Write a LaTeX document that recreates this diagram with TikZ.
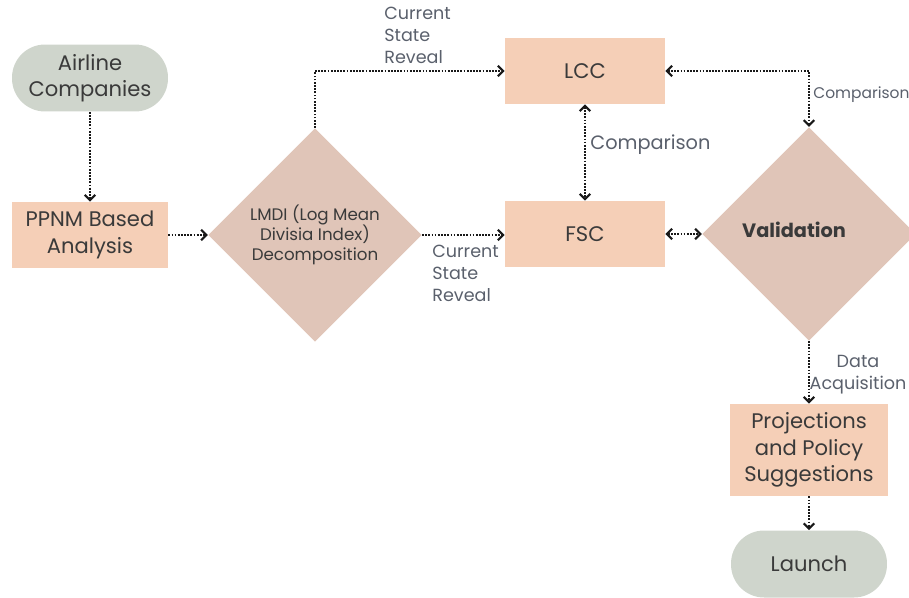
\documentclass[tikz,border=0pt]{standalone}
\usepackage{fontspec}
\setmainfont{Poppins}
\usetikzlibrary{arrows.meta,shapes.geometric}

\definecolor{pillgray}{HTML}{CFD5CC}
\definecolor{boxpeach}{HTML}{F5CFB7}
\definecolor{diamondrose}{HTML}{E0C5B8}
\definecolor{inktext}{HTML}{3A3A3A}
\definecolor{labeltext}{HTML}{5A606C}

\tikzset{
  pill/.style={rectangle, rounded corners=0.66cm, fill=pillgray, text=inktext,
    minimum width=3.12cm, minimum height=1.34cm, align=center, font=\fontsize{12}{15}\selectfont},
  stepbox/.style={rectangle, fill=boxpeach, text=inktext, minimum width=3.16cm,
    minimum height=1.32cm, align=center, font=\fontsize{12}{15}\selectfont},
  decision/.style={diamond, fill=diamondrose, text=inktext, minimum size=4.27cm,
    inner sep=0pt, align=center},
  flowlabel/.style={text=labeltext, align=left, inner sep=0pt, font=\fontsize{10}{12.5}\selectfont},
  barb/.tip={Straight Barb[length=3pt,width=6pt,line width=1.2pt]},
  flow/.style={line width=1.6pt, dash pattern=on 1pt off 0.8pt, black!90, -barb},
  flowboth/.style={flow, barb-barb}
}

\begin{document}
\begin{tikzpicture}[x=0.02cm,y=-0.02cm]
    \useasboundingbox (0,0) rectangle (909,598); % Fix the page to the reference size
    \clip (0,0) rectangle (909,598);

    % Left column
    \node[pill] (airline) at (90,78) {Airline\\Companies};
    \node[stepbox, minimum width=3.12cm] (ppnm) at (90,235) {PPNM Based\\Analysis};
    \node[decision, font=\fontsize{9.5}{11.5}\selectfont] (lmdi) at (315,235) {LMDI (Log Mean\\Divisia Index)\\Decomposition};

    % Middle column
    \node[stepbox, minimum width=3.2cm] (lcc) at (585,71) {LCC};
    \node[stepbox, minimum width=3.2cm] (fsc) at (585,234) {FSC};

    % Right column
    \node[decision, font=\fontsize{11}{13}\selectfont\bfseries] (valid) at (809,234) {\hbox{\raisebox{5pt}{Validation}\kern17pt}};
    \node[stepbox, minimum height=1.84cm] (proj) at (809,450) {Projections\\and Policy\\Suggestions};
    \node[pill] (launch) at (809,564) {Launch};

    % Connectors
    \draw[flow] (airline) -- (ppnm);
    \draw[flow] (ppnm) -- (lmdi);
    \draw[flow] (lmdi.north) |- (lcc.west);
    \draw[flow] (lmdi.east) -- (fsc.west |- lmdi.east);
    \draw[flowboth] (lcc) -- (fsc);
    \draw[flowboth] (lcc.east) -| (valid.north);
    \draw[flowboth] (fsc) -- (valid);
    \draw[flow] (valid.south) -- (valid.south |- proj.north);
    \draw[flow] (proj) -- (launch);

    % Annotate the connectors
    \node[flowlabel, anchor=south west] (revealtop) at (384,64) {Current\\State\\Reveal};
    \node[flowlabel, anchor=north west] (revealbot) at (432,245) {Current\\State\\Reveal};
    \node[flowlabel, anchor=west, font=\fontsize{11}{13}\selectfont] (cmpmid) at (590,145) {Comparison};
    \node[flowlabel, anchor=west, font=\fontsize{8.8}{11}\selectfont] (cmpright) at (813,95) {Comparison};
    \node[flowlabel, align=center, anchor=north] (acquire) at (858,355) {Data\\Acquisition};
\end{tikzpicture}
\end{document}
